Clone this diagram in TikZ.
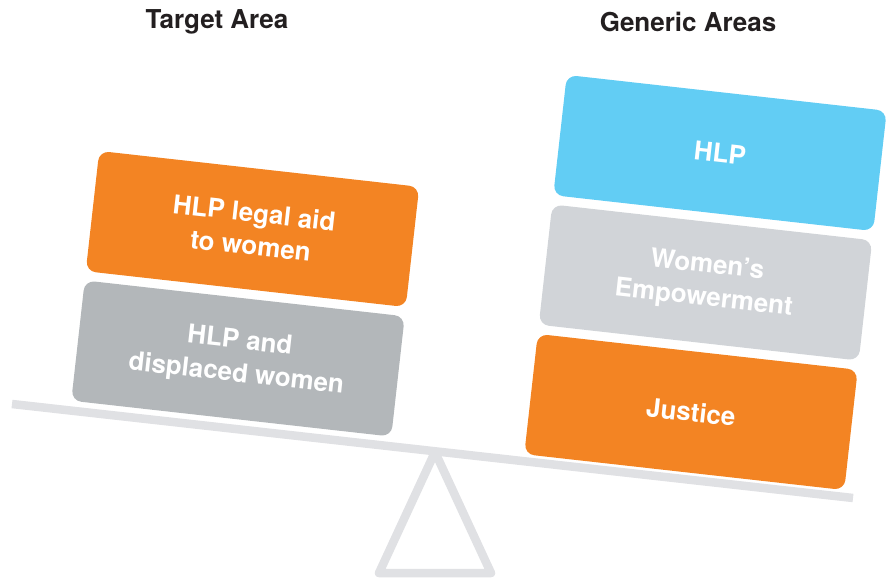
\documentclass[tikz,border=0pt]{standalone}
\usepackage{fontspec}
\setmainfont{TeX Gyre Heros}
\usepackage{xcolor}
\usetikzlibrary{positioning,calc}
\definecolor{boxorange}{HTML}{F38423}
\definecolor{boxblue}{HTML}{62CDF4}
\definecolor{boxgray}{HTML}{B3B7BA}
\definecolor{boxlight}{HTML}{D1D4D8}
\definecolor{beamgray}{HTML}{E0E1E4}
\definecolor{titledark}{HTML}{231F20}

\begin{document}
\begin{tikzpicture}[x=1pt, y=-1pt,
  block/.style={rounded corners=10pt, minimum width=322pt, minimum height=121pt, inner sep=0pt,
    rotate=-6.4, align=center, text=white, font=\fontsize{26}{33}\selectfont\bfseries},
  heading/.style={text=titledark, font=\fontsize{26}{30}\selectfont\bfseries},
  beam/.style={beamgray, line width=8.5pt}]
\useasboundingbox (0,0) rectangle (886,580);
% titles
\node[heading] (target) at (217,22) {Target Area};
\node[heading] (generic) at (688,22) {Generic Areas};
% balance
\coordinate (beamL) at (12,404);
\coordinate (beamR) at (853,498);
\coordinate (apex) at (435,452);
\coordinate (footL) at (379,573);
\coordinate (footR) at (491,573);
\draw[beam, line join=round, fill=white] (apex) -- (footL) -- (footR) -- cycle;
\draw[beam] (beamL) -- (beamR);
% left pan
\node[block, fill=boxgray] (displaced) at (238,358.5) {HLP and\\displaced women};
\node[block, fill=boxorange] (aid) at (252.5,229) {HLP legal aid\\to women};
% right pan
\node[block, fill=boxorange] (justice) at (691,412) {Justice};
\node[block, fill=boxlight] (empower) at (705.5,282.5) {Women’s\\Empowerment};
\node[block, fill=boxblue] (hlp) at (720,153) {HLP};
\end{tikzpicture}
\end{document}
